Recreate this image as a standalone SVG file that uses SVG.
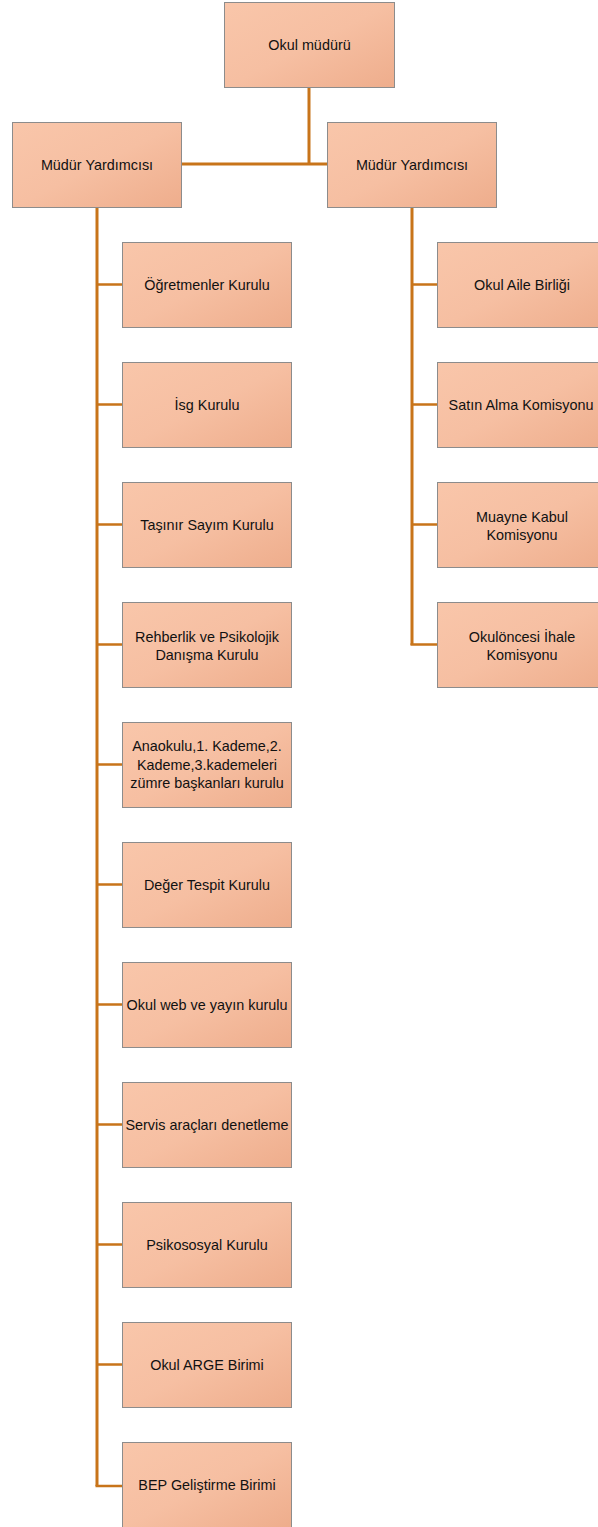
<svg xmlns="http://www.w3.org/2000/svg" width="598" height="1527" viewBox="0 0 598 1527">
<defs>
<linearGradient id="g" x1="0" y1="0" x2="1" y2="1">
<stop offset="0" stop-color="#F9C6AA"/>
<stop offset="0.5" stop-color="#F6BFA2"/>
<stop offset="1" stop-color="#EEAD8C"/>
</linearGradient>
</defs>
<style>
.b{fill:url(#g);stroke:#8C8C8C;stroke-width:1}
.t{font-family:"Liberation Sans",Arial,sans-serif;font-size:14.4px;fill:#111111;text-anchor:middle}
.c{fill:none;stroke:#C8741A;stroke-width:3}
.cs{fill:none;stroke:#C8741A;stroke-width:2.5}
</style>
<rect width="598" height="1527" fill="#ffffff"/>
<g id="connectors">
<path class="c" d="M309,87 V164 M181,164 H327"/>
<path class="c" d="M97,207 V1486"/>
<path class="cs" d="M95.5,1486 H122 M97,284.5 H122 M97,404.5 H122 M97,524.5 H122 M97,644.5 H122 M97,764.5 H122 M97,884.5 H122 M97,1004.5 H122 M97,1124.5 H122 M97,1244.5 H122 M97,1364.5 H122"/>
<path class="c" d="M412,207 V645"/>
<path class="cs" d="M412,284.5 H437 M412,404.5 H437 M412,524.5 H437 M410.5,644.5 H437"/>
</g>
<g id="n0"><rect class="b" x="224.5" y="2.5" width="170" height="85"/><text class="t" x="309.5" y="50">Okul müdürü</text></g>
<g id="n1"><rect class="b" x="12.5" y="122.5" width="169" height="85"/><text class="t" x="97" y="170">Müdür Yardımcısı</text></g>
<g id="n2"><rect class="b" x="327.5" y="122.5" width="169" height="85"/><text class="t" x="412" y="170">Müdür Yardımcısı</text></g>
<g id="l1"><rect class="b" x="122.5" y="242.5" width="169" height="85"/><text class="t" x="207" y="290">Öğretmenler Kurulu</text></g>
<g id="l2"><rect class="b" x="122.5" y="362.5" width="169" height="85"/><text class="t" x="207" y="410">İsg Kurulu</text></g>
<g id="l3"><rect class="b" x="122.5" y="482.5" width="169" height="85"/><text class="t" x="207" y="530">Taşınır Sayım Kurulu</text></g>
<g id="l4"><rect class="b" x="122.5" y="602.5" width="169" height="85"/><text class="t" x="207" y="642">Rehberlik ve Psikolojik</text><text class="t" x="207" y="659.5">Danışma Kurulu</text></g>
<g id="l5"><rect class="b" x="122.5" y="722.5" width="169" height="85"/><text class="t" x="207" y="751">Anaokulu,1. Kademe,2.</text><text class="t" x="207" y="769.5">Kademe,3.kademeleri</text><text class="t" x="207" y="788">zümre başkanları kurulu</text></g>
<g id="l6"><rect class="b" x="122.5" y="842.5" width="169" height="85"/><text class="t" x="207" y="890">Değer Tespit Kurulu</text></g>
<g id="l7"><rect class="b" x="122.5" y="962.5" width="169" height="85"/><text class="t" x="207" y="1010">Okul web ve yayın kurulu</text></g>
<g id="l8"><rect class="b" x="122.5" y="1082.5" width="169" height="85"/><text class="t" x="207" y="1130">Servis araçları denetleme</text></g>
<g id="l9"><rect class="b" x="122.5" y="1202.5" width="169" height="85"/><text class="t" x="207" y="1250">Psikososyal Kurulu</text></g>
<g id="l10"><rect class="b" x="122.5" y="1322.5" width="169" height="85"/><text class="t" x="207" y="1370">Okul ARGE Birimi</text></g>
<g id="l11"><rect class="b" x="122.5" y="1442.5" width="169" height="85"/><text class="t" x="207" y="1490">BEP Geliştirme Birimi</text></g>
<g id="r1"><rect class="b" x="437.5" y="242.5" width="169" height="85"/><text class="t" x="522" y="290">Okul Aile Birliği</text></g>
<g id="r2"><rect class="b" x="437.5" y="362.5" width="169" height="85"/><text class="t" x="521" y="410">Satın Alma Komisyonu</text></g>
<g id="r3"><rect class="b" x="437.5" y="482.5" width="169" height="85"/><text class="t" x="522" y="522">Muayne Kabul</text><text class="t" x="522" y="539.5">Komisyonu</text></g>
<g id="r4"><rect class="b" x="437.5" y="602.5" width="169" height="85"/><text class="t" x="522" y="642">Okulöncesi İhale</text><text class="t" x="522" y="659.5">Komisyonu</text></g>
</svg>
